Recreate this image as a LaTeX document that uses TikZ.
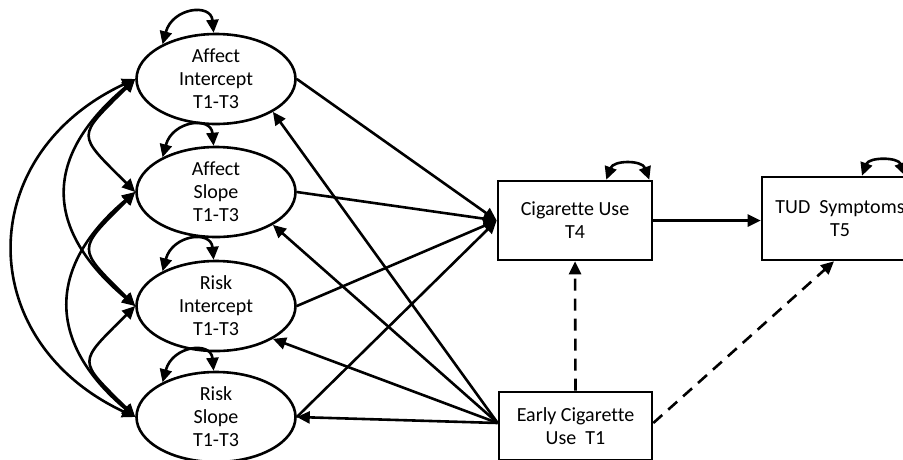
\documentclass[tikz,border=0pt]{standalone}
\usepackage{fontspec}
\setmainfont[Ligatures=NoCommon]{Carlito}
\usetikzlibrary{arrows.meta,shapes.geometric}
\begin{document}
\begin{tikzpicture}[x=1pt,y=1pt,
  every node/.style={font=\fontsize{20}{23}\selectfont, align=center},
  ell/.style={draw, ellipse, line width=2.6pt, minimum width=159pt, minimum height=90pt, inner xsep=0pt, inner ysep=-12pt},
  box/.style={draw, rectangle, line width=2.6pt, inner sep=0pt},
  tip/.style={-{Triangle[length=13pt,width=12pt]}},
  ln/.style={line width=2.6pt},
  cov/.style={line width=2.6pt, {Triangle[length=13pt,width=12pt]}-{Triangle[length=13pt,width=12pt]}},
  dsh/.style={line width=2.6pt, dash pattern=on 12pt off 8pt}
]
\path[use as bounding box] (0,0) rectangle (903,-459);
\clip (0,0) rectangle (903,-459);

% latent factors
\node[ell] (ai) at (216,-79) {Affect\\Intercept\\T1-T3};
\node[ell] (as) at (216,-192) {Affect\\Slope\\T1-T3};
\node[ell] (ri) at (216,-306) {Risk\\Intercept\\T1-T3};
\node[ell] (rs) at (216,-417) {Risk\\Slope\\T1-T3};

% observed variables
\node[box, minimum width=154pt, minimum height=79pt] (cig) at (575,-220.5) {Cigarette Use\\T4};
\node[box, minimum width=156pt, minimum height=83pt] (tud) at (840,-218.5) {TUD\ \ Symptoms\\T5};
\node[box, minimum width=153pt, minimum height=68pt] (early) at (575.5,-426) {Early Cigarette\\Use\ \ T1};
\coordinate (eo) at ([yshift=3pt]early.west);

% self variances
\draw[cov] (ai.147) .. controls +(75:38) and +(95:30) .. (ai.93);
\draw[cov] (as.147) .. controls +(75:38) and +(95:30) .. (as.93);
\draw[cov] (ri.147) .. controls +(75:38) and +(95:30) .. (ri.93);
\draw[cov] (rs.147) .. controls +(75:38) and +(95:30) .. (rs.93);
\draw[cov] ([xshift=-47pt]cig.north east) .. controls +(70:21) and +(110:21) .. ([xshift=-4pt]cig.north east);
\draw[cov] ([xshift=22pt]tud.north) .. controls +(70:20) and +(110:20) .. ([xshift=65pt]tud.north);

% covariances
\draw[cov] (ai.west) to[out=225,in=135,looseness=1.9] (as.west);
\draw[cov] (as.west) to[out=225,in=135,looseness=1.87] (ri.west);
\draw[cov] (ri.west) to[out=225,in=135,looseness=1.9] (rs.west);
\draw[cov] (ai.west) to[out=220,in=140,looseness=1.36] (ri.west);
\draw[cov] (as.west) to[out=220,in=140,looseness=1.32] (rs.west);
\draw[cov] (ai.west) to[out=205,in=155,looseness=1.36] (rs.west);

% paths to cigarette use
\draw[ln,tip] (ai.east) -- (cig.west);
\draw[ln,tip] (as.east) -- (cig.west);
\draw[ln,tip] (ri.east) -- (cig.west);
\draw[ln,tip] (rs.east) -- (cig.west);

% paths from early cigarette use
\draw[ln,tip] (eo) -- (ai.330);
\draw[ln,tip] (eo) -- (as.330);
\draw[ln,tip] (eo) -- (ri.330);
\draw[ln,tip] (eo) -- (rs.east);

\draw[ln,tip] (cig.east) -- (cig.east -| tud.west);
\draw[dsh,tip] (early.north) -- (cig.south);
\draw[dsh,tip] ([yshift=3pt]early.east) -- ([xshift=-6pt]tud.south);
\end{tikzpicture}
\end{document}
